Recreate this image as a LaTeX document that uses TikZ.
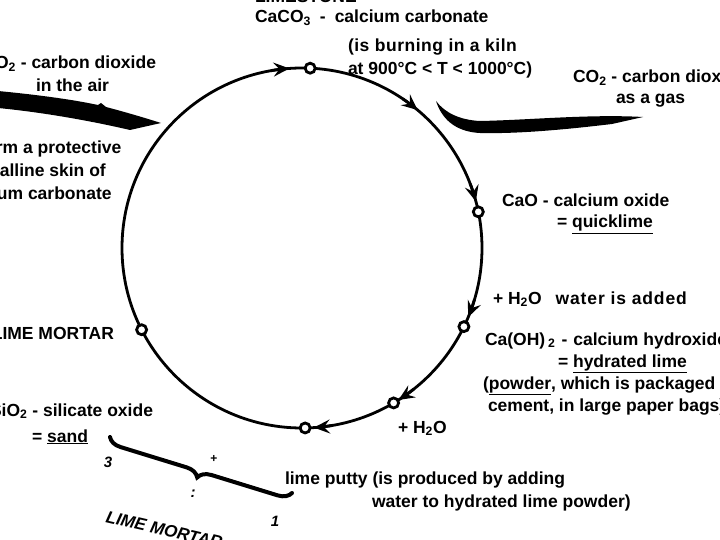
\documentclass[tikz,border=0pt]{standalone}
\usepackage{fontspec}
\setmainfont{Liberation Sans}
\usetikzlibrary{arrows.meta,decorations.pathreplacing,calc}
\begin{document}
\begin{tikzpicture}[x=1pt,y=-1pt,
  txt/.style={font=\fontsize{17.5}{20}\selectfont\bfseries, inner sep=0pt, outer sep=0pt},
  small/.style={font=\fontsize{15}{18}\selectfont\bfseries\itshape, inner sep=0pt},
  marker/.style={circle, draw, fill=white, line width=2.8pt, minimum size=10pt, inner sep=0pt},
  ring/.style={line width=2.8pt},
  cyclearrow/.style={line width=2.8pt, -{Stealth[length=16pt,width=14pt,inset=6pt]}},
  bigarrow/.style={fill=black},
  bracestyle/.style={line width=4pt, line cap=round, decorate, decoration={brace, amplitude=13pt}}]
\useasboundingbox (0,0) rectangle (720,540);
\fill[white] (0,0) rectangle (720,540);
\coordinate (c) at (302,248);
% the cycle
\draw[ring] (c) circle[radius=180];
% arrows on the cycle (visual angle of the tip)
\foreach \t in {94,50,15,-22.6,-57.6,-86.2}{
  \draw[cyclearrow] ($(c)+(-\t-6:180)$) arc[start angle=-\t-6, end angle=-\t, radius=180];
}
% markers
\node[marker] (m1) at ($(c)+(-87.4:180)$) {};
\node[marker] (m2) at ($(c)+(-11.6:180)$) {};
\node[marker] (m3) at ($(c)+(25.9:180)$) {};
\node[marker] (m4) at ($(c)+(59.4:180)$) {};
\node[marker] (m5) at ($(c)+(89:180)$) {};
\node[marker] (m6) at ($(c)+(153:180)$) {};
% big CO2 arrows
\fill[bigarrow] (-2,91) .. controls (40,95) and (75,100) .. (98,105) -- (101,103) -- (106,107)
  .. controls (125,112) and (142,117) .. (161,123)
  -- (130,130) .. controls (100,123) and (50,113) .. (-2,108) -- cycle;
\fill[bigarrow] (436,101) .. controls (445,113) and (460,120) .. (480,121)
  .. controls (530,120) and (590,114) .. (643,117)
  -- (612,124) .. controls (570,129) and (520,134) .. (480,133)
  .. controls (460,132) and (443,123) .. (436,101) -- cycle;
% top texts
\node[txt, anchor=base west] (limestone) at (255,3) {LIMESTONE};
\node[txt, anchor=base west] (caco3) at (255,23) {CaCO\textsubscript{3}\hspace{9pt}-\hspace{9pt}calcium carbonate};
\node[txt, anchor=base west] (burn1) at (348,52) {\addfontfeature{LetterSpace=3}(is burning in a kiln};
\node[txt, anchor=base west] (burn2) at (348,75) {at 900°C < T < 1000°C)};
% left texts
\node[txt, anchor=base east] (co2air1) at (156,69) {CO\textsubscript{2} - carbon dioxide};
\node[txt, anchor=base west] (co2air2) at (36,92) {in the air};
\node[txt, anchor=base west] (skin1) at (-42,154) {to form a protective};
\node[txt, anchor=base west] (skin2) at (-42,177) {crystalline skin of};
\node[txt, anchor=base west] (skin3) at (-42,200) {calcium carbonate};
\node[txt, anchor=base east] (mortar) at (114,339) {LIME MORTAR};
\node[txt, anchor=base east] (sio2) at (153,416) {SiO\textsubscript{2} - silicate oxide};
\node[txt, anchor=base east] (sand) at (88,442) {= \underline{sand}};
% right texts
\node[txt, anchor=base west] (co2gas1) at (573,83) {CO\textsubscript{2} - carbon dioxide};
\node[txt, anchor=base west] (co2gas2) at (616,104) {as a gas};
\node[txt, anchor=base west] (cao1) at (502,207) {CaO - calcium oxide};
\node[txt, anchor=base west] (cao2) at (557,228) {= \underline{quicklime}};
\node[txt, anchor=base west] (water1) at (493,304) {+ H\textsubscript{2}O\hspace{14pt}{\addfontfeature{LetterSpace=5}water is added}};
\node[txt, anchor=base west] (caoh1) at (485,345) {Ca(OH)\,\textsubscript{2}\hspace{6pt}-\hspace{6pt}calcium hydroxide};
\node[txt, anchor=base west] (caoh2) at (558,367) {= \underline{hydrated lime}};
\node[txt, anchor=base west] (caoh3) at (483,389) {(\underline{powder}, which is packaged like};
\node[txt, anchor=base west] (caoh4) at (488,411) {cement, in large paper bags)};
\node[txt, anchor=base west] (water2) at (398,433) {+ H\textsubscript{2}O};
\node[txt, anchor=base west] (putty1) at (285,484) {lime putty (is produced by adding};
\node[txt, anchor=base west] (putty2) at (372,507) {water to hydrated lime powder)};
% brace and its labels
\coordinate (brA) at (110,437);
\coordinate (brB) at (292,493);
\draw[bracestyle] (brB) -- (brA);
\node[small] (n3) at (108,462) {3};
\node[small, font=\fontsize{12}{12}\selectfont\bfseries] (nplus) at (214,459) {+};
\node[small] (ncolon) at (193,494) {:};
\node[small] (n1) at (275,521) {1};
\node[small, font=\fontsize{17}{20}\selectfont\bfseries\itshape, anchor=base west, rotate=-13] (mortar2) at (105,522) {LIME MORTAR};
\end{tikzpicture}
\end{document}
